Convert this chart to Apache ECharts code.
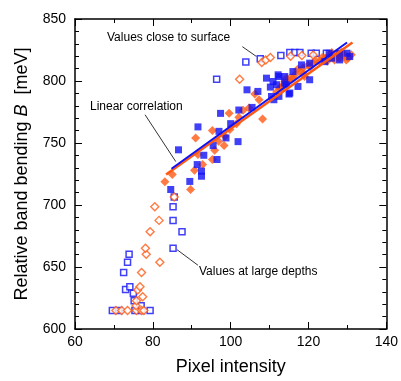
<!DOCTYPE html>
<html><head><meta charset="utf-8">
<script src="https://cdn.jsdelivr.net/npm/echarts@6/dist/echarts.min.js"></script>
<style>html,body{margin:0;padding:0;background:#fff}#c{width:401px;height:381px}</style>
</head><body><div id="c"></div>
<script>
// ---- data (Pixel intensity, Relative band bending B in meV) ----
const blueOpen = [
  [69.6,615],[71.3,615],[75.4,615],[77.1,615],[79.3,615],
  [75.2,622.8],[77.0,618.7],[75.0,628.9],[73.0,631.9],[74.1,634.0],
  [72.5,645.6],[73.5,653.9],[73.9,660.3],[85.2,665.1],[87.5,678.5],
  [85.2,687.6],[85.2,698.6],[85.5,706.4],
  [96.4,801.5],[103.9,815.4],[107.6,818],[112.9,820.5],[115.2,823],[116.5,823],
  [117.8,823],[120.7,822.4],[122.0,822.4],[124.6,822.4]
];
const orangeOpen = [
  [70.5,615],[72.0,615],[73.5,615],[75.8,615],[77.1,615],[77.7,615],
  [75.7,618.7],[75.8,622.8],[77.4,626],[76.1,631.4],[76.7,634],[77.1,645.6],
  [78.3,660.3],[78.1,665.1],[81.8,653.9],[79.3,678.5],[81.6,687.6],[80.5,698.6],[85.5,706.4],
  [102.3,801.5],[108.0,814.9],[109.0,817],[110.2,819],[115.4,820],[118.3,820.5],[121.2,821]
];
const blueFilled = [
  [84.6,712.5],[86.6,744.5],[89.5,719.0],[91.4,732.6],[92.5,727.3],[92.5,723.2],
  [93.1,740.1],[91.6,763.0],[95.5,747.9],[96.5,736.7],[97.0,759.4],[98.8,754.1],
  [100.0,765.6],[101.9,751.1],[97.4,773.9],[102.1,776.6],[105.5,778.7],[104.2,792.9],
  [107.0,791.6],[109.2,802.3],[110.2,795.1],[111.1,784.9],[112.4,787.6],[112.4,803.6],
  [115.0,789.5],[113.9,798.3],[117.3,795.6],[110.5,787.5],[110.9,799.6],[111.8,797],
  [114.3,797],[112.2,805],[113.9,803.6],[116.0,807.6],[118.2,813],[120.3,814.4],
  [120.3,801],[124.2,815.6],[125.9,818.4],[125.3,822.4],[128.0,822.4],[129.9,822.4],
  [130.6,819.7],[128,817],[115.2,790.3]
];
const orangeFilled = [
  [83.1,718.7],[85.0,724.6],[89.7,712.5],[90.7,728.1],[91.0,754.1],[91.6,740.7],
  [92.8,732.6],[95.3,736.7],[95.3,760.0],[95.9,744.1],[96.9,751.4],[98.3,747.9],
  [98.5,755.4],[99.8,760.8],[101.5,765.6],[99.6,773.9],[102.1,770.7],[104.7,778.2],
  [106.2,789.5],[107.3,784.9],[108.2,769.4],[111.8,791.1],[113.1,794.3],[113.5,797],
  [114.3,802.3],[116.0,802.3],[112.6,794.3],[113.9,799.6],[115.2,802.3],[116.5,805],
  [117.8,807.6],[118.6,810.4],[119.0,803.6],[119.9,813],[121.2,814.4],[122.9,815.7],
  [124.2,818.4],[125.0,819.7],[125.9,821.1],[126.7,817],[127.2,822.4],[128.0,818.4],
  [128.5,823.2],[129.3,819.7],[129.7,817],[131.0,821.1],
  [120.5,811.5],[121.8,816.5],[123.5,819],[124.8,816],[126.0,823],[127.8,820.5],
  [129.0,822],[130.2,818.5],[117.2,809.5],[118.8,805.8],[114.8,800.5],[103.2,776.5]
];
const blueFit = [[84.8,729.2],[129.9,831.0]];
const orangeFit = [[83.4,724.6],[131.3,831.0]];
// annotation leader lines (data coords)
const leaderSurface = [[103.0,827.7],[106.6,819.8]];
const leaderLinear = [[78.0,772.8],[85.9,735.0]];
const leaderDepth = [[86.2,664.0],[91.6,651.4]];
const xTicks = {min:60, max:140, interval:20};
const yTicks = {min:600, max:850, interval:50};

const BLUE = '#1010f5', ORANGE = '#ff5a14';
const FONT = '"Liberation Sans", Arial, sans-serif';
const chart = echarts.init(document.getElementById('c'));

function axisBase(show){
  return {
    type:'value',
    axisLine:{show:true,onZero:false,lineStyle:{color:'#000',width:1.5}},
    axisTick:{show:true,inside:true,length:7,lineStyle:{color:'#000',width:1}},
    minorTick:{show:true,length:4,lineStyle:{color:'#000',width:1}},
    splitLine:{show:false},
    axisLabel:{show:show,color:'#000',fontFamily:FONT,fontSize:14}
  };
}
const xMain = Object.assign(axisBase(true), xTicks, {
  position:'bottom',
  name:'Pixel intensity', nameLocation:'middle', nameGap:29,
  nameTextStyle:{color:'#000',fontFamily:FONT,fontSize:18}
});
xMain.minorTick.splitNumber = 2;
xMain.axisLabel.margin = 6;
const xTop = Object.assign(axisBase(false), xTicks, {position:'top'});
xTop.minorTick.splitNumber = 2;
const yMain = Object.assign(axisBase(true), yTicks, {
  position:'left',
  name:'{a|Relative band bending }{b|B}{a|  [meV]}', nameLocation:'middle', nameGap:44,
  nameTextStyle:{color:'#000',fontFamily:FONT,fontSize:18,
    rich:{a:{fontFamily:FONT,fontSize:18,color:'#000'},b:{fontFamily:FONT,fontSize:18,fontStyle:'italic',color:'#000'}}}
});
yMain.minorTick.splitNumber = 5;
yMain.axisLabel.margin = 9;
const yRight = Object.assign(axisBase(false), yTicks, {position:'right'});
yRight.minorTick.splitNumber = 5;

function leader(d){
  return {type:'line',data:d,symbol:'none',silent:true,z:1,
    lineStyle:{color:'#333',width:1},animation:false};
}
const option = {
  animation:false,
  grid:{left:75,right:14,top:19,bottom:51},
  xAxis:[xMain,xTop],
  yAxis:[yMain,yRight],
  series:[
    leader(leaderSurface), leader(leaderLinear), leader(leaderDepth),
    {type:'scatter',data:blueOpen,symbol:'rect',symbolSize:6,z:3,
      itemStyle:{color:'#fff',borderColor:BLUE,borderWidth:1.5}},
    {type:'scatter',data:orangeOpen,symbol:'diamond',symbolSize:[8,8],z:3,
      itemStyle:{color:'#fff',borderColor:ORANGE,borderWidth:1.4}},
    {type:'scatter',data:orangeFilled,symbol:'diamond',symbolSize:[9,9],z:4,
      itemStyle:{color:ORANGE}},
    {type:'scatter',data:blueFilled,symbol:'rect',symbolSize:7,z:4,
      itemStyle:{color:BLUE}},
    {type:'line',data:orangeFit,symbol:'none',z:5,lineStyle:{color:ORANGE,width:2.5}},
    {type:'line',data:blueFit,symbol:'none',z:6,lineStyle:{color:BLUE,width:2}}
  ],
  graphic:[
    {type:'text',left:107,top:32,style:{text:'Values close to surface',fontFamily:FONT,fontSize:12,fill:'#000'}},
    {type:'text',left:90,top:101,style:{text:'Linear correlation',fontFamily:FONT,fontSize:12,fill:'#000'}},
    {type:'text',left:199,top:266,style:{text:'Values at large depths',fontFamily:FONT,fontSize:12,fill:'#000'}}
  ]
};
chart.setOption(option);
</script></body></html>
